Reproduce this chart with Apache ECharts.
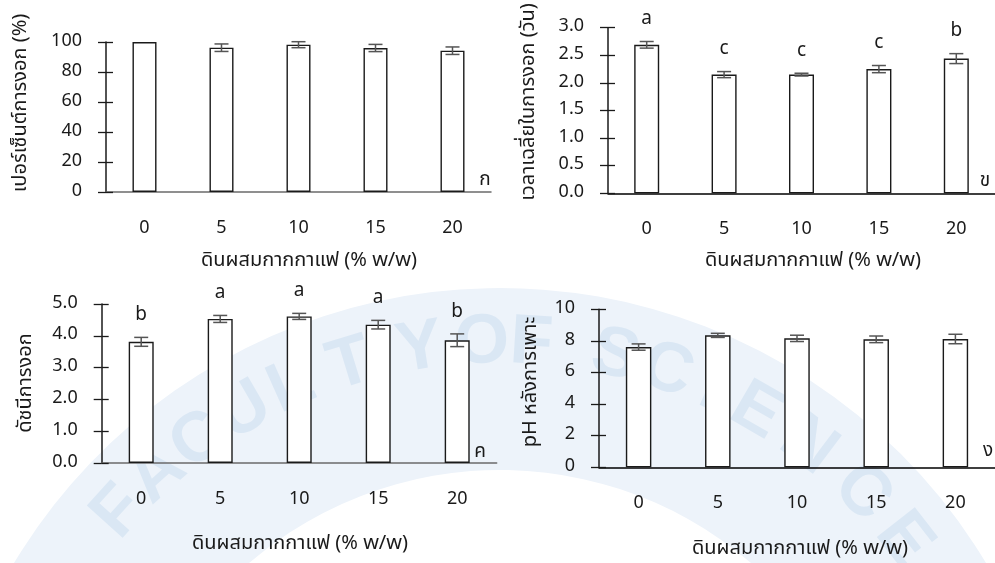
<!DOCTYPE html>
<html><head><meta charset="utf-8">
<script src="https://cdn.jsdelivr.net/npm/echarts@6/dist/echarts.min.js"></script>
<style>html,body{margin:0;padding:0;background:#fff}#c{width:995px;height:563px}</style>
</head><body><div id="c"></div>
<script>
// ---- data ----
const categories = ['0', '5', '10', '15', '20'];
const germPct = [100, 96.2, 98.2, 96.0, 94.2];
const germPctErr = [0, 2.5, 2.0, 2.4, 2.5];
const meanTime = [2.69, 2.15, 2.15, 2.25, 2.44];
const meanTimeErr = [0.06, 0.055, 0.025, 0.065, 0.09];
const meanTimeLetters = ['a', 'c', 'c', 'c', 'b'];
const germIndex = [3.81, 4.53, 4.61, 4.35, 3.86];
const germIndexErr = [0.14, 0.11, 0.095, 0.135, 0.2];
const germIndexLetters = ['b', 'a', 'a', 'a', 'b'];
const phAfter = [7.61, 8.35, 8.16, 8.10, 8.12];
const phAfterErr = [0.2, 0.13, 0.2, 0.21, 0.3];
const noLetters = ['', '', '', '', ''];
// y-axis scales: [min, max, interval, decimals]
const yScale1 = [0, 100, 20, 0];
const yScale2 = [0, 3, 0.5, 1];
const yScale3 = [0, 5, 1, 1];
const yScale4 = [0, 10, 2, 0];
const xTitle = 'ดินผสมกากกาแฟ (% w/w)';
const yTitles = ['เปอร์เซ็นต์การงอก (%)', 'เวลาเฉลี่ยในการงอก (วัน)', 'ดัชนีการงอก', 'pH หลังการเพาะ'];
const panelMarks = ['ก', 'ข', 'ค', 'ง'];
const watermarkLetters = ['F', 'A', 'C', 'U', 'L', 'T', 'Y', 'O', 'F', 'S', 'C', 'I', 'E', 'N', 'C', 'E'];
const watermarkAngles = [-48, -42, -36, -30, -24, -17, -9, -2, 3.5, 13, 19, 24.5, 30, 37, 45, 52];

// ---- layout ----
const FONT = '"Noto Sans Thai", "Noto Sans", sans-serif';
const panels = [
  {left: 106, top: 42, width: 385, height: 150, barW: 24, xLine: '#6b6b6b',
   vals: germPct, errs: germPctErr, letters: noLetters, scale: yScale1,
   yT: [22, 103], xT: [309, 262], mk: [485, 181]},
  {left: 608, top: 27.7, width: 395, height: 165.6, barW: 25, xLine: '#000',
   vals: meanTime, errs: meanTimeErr, letters: meanTimeLetters, scale: yScale2,
   yT: [530, 102], xT: [813, 262], mk: [985, 182]},
  {left: 101.7, top: 304, width: 395, height: 159, barW: 25, xLine: '#6b6b6b',
   vals: germIndex, errs: germIndexErr, letters: germIndexLetters, scale: yScale3,
   yT: [27, 383], xT: [300, 545], mk: [480, 453]},
  {left: 599, top: 309.3, width: 402.5, height: 158, barW: 25.5, xLine: '#000',
   vals: phAfter, errs: phAfterErr, letters: noLetters, scale: yScale4,
   yT: [532, 382], xT: [800, 550], mk: [988, 452]}
];

const grid = [], xAxis = [], yAxis = [], series = [], graphic = [];

// watermark (decoration)
const wcx = 500, wcy = 855, wR = 512;
graphic.push({type: 'sector', z: -10, silent: true,
  shape: {cx: wcx, cy: wcy, r0: 385, r: 567, startAngle: -Math.PI / 2 - 1.2, endAngle: -Math.PI / 2 + 1.2},
  style: {fill: '#edf3fa'}});
watermarkLetters.forEach((ch, i) => {
  const th = watermarkAngles[i] * Math.PI / 180;
  graphic.push({type: 'text', z: -9, silent: true,
    x: wcx + wR * Math.sin(th), y: wcy - wR * Math.cos(th), rotation: -th,
    style: {text: ch, fill: '#dae7f4', align: 'center', verticalAlign: 'middle',
      font: 'bold 70px "Liberation Sans Narrow", "Liberation Sans", sans-serif'}});
});

panels.forEach((p, gi) => {
  grid.push({left: p.left, top: p.top, width: p.width, height: p.height, containLabel: false});
  xAxis.push({type: 'category', gridIndex: gi, data: categories,
    axisLine: {show: true, lineStyle: {color: p.xLine, width: 1.5}},
    axisTick: {show: false},
    axisLabel: {margin: 28, color: '#1a1a1a', fontSize: 18, fontFamily: FONT},
    splitLine: {show: false}});
  const [mn, mx, iv, dec] = p.scale;
  const common = {type: 'value', gridIndex: gi, min: mn, max: mx, interval: iv, position: 'left',
    splitLine: {show: false}};
  yAxis.push(Object.assign({}, common, {
    axisLine: {show: true, lineStyle: {color: '#1a1a1a', width: 1.5}},
    axisTick: {show: true, inside: false, length: 8, lineStyle: {color: '#1a1a1a', width: 1.3}},
    axisLabel: {margin: 24, color: '#1a1a1a', fontSize: 18, fontFamily: FONT,
      formatter: v => v.toFixed(dec)}
  }));
  yAxis.push(Object.assign({}, common, {
    axisLine: {show: false},
    axisTick: {show: true, inside: true, length: 7, lineStyle: {color: '#1a1a1a', width: 1.3}},
    axisLabel: {show: false}
  }));
  series.push({type: 'bar', xAxisIndex: gi, yAxisIndex: gi * 2, data: p.vals, barWidth: p.barW,
    itemStyle: {color: '#fff', borderColor: '#1a1a1a', borderWidth: 1.4}, z: 3, silent: true});
  const letters = p.letters;
  series.push({type: 'custom', xAxisIndex: gi, yAxisIndex: gi * 2, z: 5, silent: true,
    data: p.vals.map((v, i) => [i, v, p.errs[i]]),
    renderItem: (params, api) => {
      const x = api.value(0), m = api.value(1), e = api.value(2);
      const t = api.coord([x, m + e]), b = api.coord([x, m - e]);
      const st = {stroke: '#555', lineWidth: 1.5};
      const ch = [];
      if (e > 0) {
        ch.push({type: 'line', shape: {x1: t[0], y1: t[1], x2: b[0], y2: b[1]}, style: st});
        ch.push({type: 'line', shape: {x1: t[0] - 7, y1: t[1], x2: t[0] + 7, y2: t[1]}, style: st});
        ch.push({type: 'line', shape: {x1: b[0] - 7, y1: b[1], x2: b[0] + 7, y2: b[1]}, style: st});
      }
      const lab = letters[params.dataIndex];
      if (lab) ch.push({type: 'text', style: {text: lab, x: t[0], y: t[1] - 21, align: 'center',
        verticalAlign: 'middle', fill: '#1a1a1a', font: '19px ' + FONT}});
      return {type: 'group', children: ch};
    }});
  graphic.push({type: 'text', x: p.xT[0], y: p.xT[1], style: {text: xTitle, align: 'center',
    verticalAlign: 'middle', fill: '#1a1a1a', font: '20px ' + FONT}});
  graphic.push({type: 'text', x: p.yT[0], y: p.yT[1], rotation: Math.PI / 2, style: {text: yTitles[gi],
    align: 'center', verticalAlign: 'middle', fill: '#1a1a1a', font: '20px ' + FONT}});
  graphic.push({type: 'text', x: p.mk[0], y: p.mk[1], style: {text: panelMarks[gi], align: 'center',
    verticalAlign: 'middle', fill: '#1a1a1a', font: '19px ' + FONT}});
});

const chart = echarts.init(document.getElementById('c'), null, {renderer: 'canvas'});
chart.setOption({animation: false, backgroundColor: '#fff', grid, xAxis, yAxis, series, graphic});
</script>
</body></html>
